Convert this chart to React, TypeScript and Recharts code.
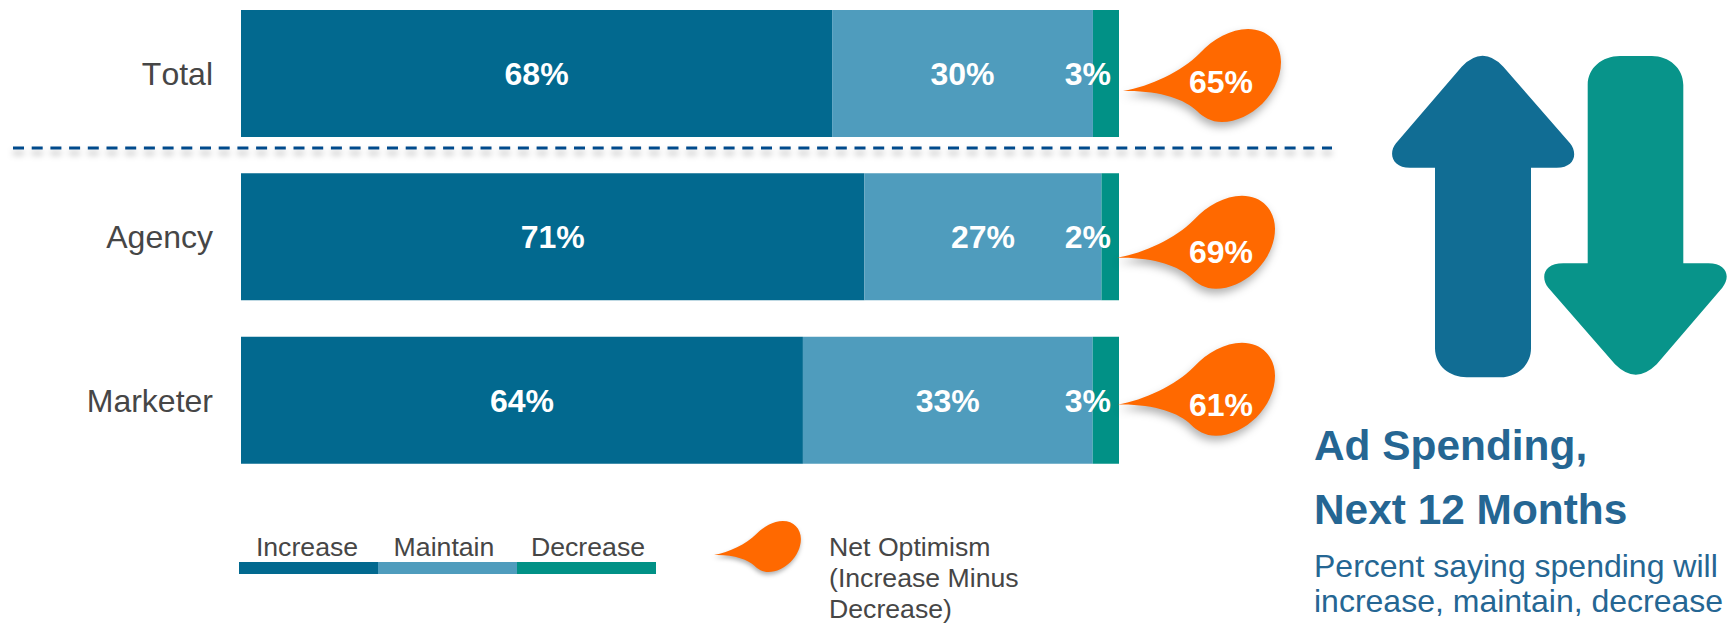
import { BarChart, Bar, XAxis, YAxis, LabelList, Legend } from "recharts";

const categories = ["Total", "Agency", "Marketer"];
const increase = [68, 71, 64];
const maintain = [30, 27, 33];
const decrease = [3, 2, 3];
const netOptimism = [65, 69, 61];

const chartData = categories.map((name, i) => ({
  name,
  increase: increase[i],
  maintain: maintain[i],
  decrease: decrease[i],
  net: netOptimism[i],
}));

const FONT = '"Liberation Sans", Arial, sans-serif';
const TEXT_COLOR = "#464646";
const TITLE_COLOR = "#256693";
const ORANGE = "#ff6900";

// teardrop outline, tip of the tail sits at 0,0
const DROP_PATH =
  "M0 0 C28 -5 58 -19 77 -38 C90 -52 108 -62 125 -62 C145 -62 158 -48 158 -29 C158 2 128 31 99 31 C88 31 80 26 74 20 C62 8 35 -1 0 0 Z";
const DROP_SHADOW = "drop-shadow(-1px 5px 4px rgba(0,0,0,0.3))";

// the bubbles were nudged by hand per row: tail offset from the bar end / bar middle, then label offset from the tail
const bubbleNudge = [
  { dx: 4, dy: 17.5, labelX: 98, labelY: 2 },
  { dx: -2, dy: 21, labelX: 104, labelY: 5 },
  { dx: -2, dy: 4.5, labelX: 104, labelY: 11 },
];

const NetBubble = (props: any) => {
  const { x, y, width, height, value, index } = props;
  const nudge = bubbleNudge[index];
  const tipX = x + width + nudge.dx;
  const tipY = y + height / 2 + nudge.dy;
  return (
    <g transform={`translate(${tipX} ${tipY})`}>
      <path d={DROP_PATH} fill={ORANGE} style={{ filter: DROP_SHADOW }} />
      <text
        x={nudge.labelX}
        y={nudge.labelY}
        textAnchor="middle"
        fill="#fff"
        fontSize={32}
        fontWeight="bold"
      >
        {value}%
      </text>
    </g>
  );
};

const legendCentres = [307, 444, 588];

const LegendContent = ({ payload }: any) => (
  <svg width={1729} height={623} style={{ display: "block", fontFamily: FONT, fontKerning: "none" }}>
    {(payload || []).map((item: any, i: number) => (
      <g key={item.value}>
        <rect x={239 + i * 139} y={562} width={139} height={12} fill={item.color} />
        <text x={legendCentres[i]} y={556} textAnchor="middle" fontSize={26.67} fill={TEXT_COLOR}>
          {item.value}
        </text>
      </g>
    ))}
    <g transform="translate(714 555)">
      <path d={DROP_PATH} fill={ORANGE} transform="scale(0.55)" style={{ filter: DROP_SHADOW }} />
    </g>
    <g fontSize={26.67} fill={TEXT_COLOR}>
      <text x={829} y={556}>Net Optimism</text>
      <text x={829} y={587}>(Increase Minus</text>
      <text x={829} y={618}>Decrease)</text>
    </g>
  </svg>
);

const percent = (v: any) => `${v}%`;

const labelStyle = { fill: "#fff", fontSize: 32, fontWeight: "bold" };

export default function App() {
  return (
    <div
      style={{
        position: "absolute",
        left: 0,
        top: 0,
        width: 1729,
        height: 623,
        fontFamily: FONT,
        fontKerning: "none",
      }}
    >
      <BarChart
        width={1729}
        height={623}
        data={chartData}
        layout="vertical"
        stackOffset="expand"
        barSize={127}
        margin={{ top: -8, right: 610, bottom: 141, left: 0 }}
        style={{ fontFamily: FONT }}
      >
        <XAxis type="number" hide />
        <YAxis
          type="category"
          dataKey="name"
          width={241}
          axisLine={false}
          tickLine={false}
          tickSize={0}
          tickMargin={28}
          tick={{ fontSize: 32, fill: TEXT_COLOR }}
        />
        <Bar dataKey="increase" name="Increase" stackId="a" fill="#02698f" isAnimationActive={false}>
          <LabelList dataKey="increase" position="center" formatter={percent} {...labelStyle} />
        </Bar>
        <Bar dataKey="maintain" name="Maintain" stackId="a" fill="#4f9cbd" isAnimationActive={false}>
          <LabelList dataKey="maintain" position="center" formatter={percent} {...labelStyle} />
        </Bar>
        <Bar dataKey="decrease" name="Decrease" stackId="a" fill="#019186" isAnimationActive={false}>
          <LabelList dataKey="decrease" position="insideRight" offset={8} formatter={percent} {...labelStyle} />
          <LabelList dataKey="net" content={NetBubble} />
        </Bar>
        <Legend
          layout="horizontal"
          verticalAlign="middle"
          itemSorter={null}
          content={LegendContent}
          wrapperStyle={{ left: 0, top: 0, width: 1729, height: 623, pointerEvents: "none" }}
        />

        {/* separator between the total row and the two groups */}
        <line
          x1={13}
          y1={148}
          x2={1332}
          y2={148}
          stroke="#004a8c"
          strokeWidth={3}
          strokeDasharray="11 7.7"
          style={{ filter: "drop-shadow(0px 5px 3px rgba(0,0,0,0.3))" }}
        />

        {/* up and down arrows on the right */}
        <path
          d="M1461.7 66.7 Q1482.7 45 1503.3 66.7 L1570 143.3 C1578 153 1575 167.7 1556.7 167.7 L1531 167.7 L1531 348.3 C1531 366 1516 377.3 1500 377.3 L1466.7 377.3 C1450 377.3 1435 366 1435 348.3 L1435 167.7 L1410 167.7 C1392 167.7 1388 153 1396 143.3 Z"
          fill="#116d94"
        />
        <path
          d="M1587.7 85 C1587.7 68 1602 56 1620 56 L1651.7 56 C1669 56 1683.3 68 1683.3 85 L1683.3 263.3 L1708.3 263.3 C1727 263.3 1731 277 1722.3 287.7 L1656.7 364.3 Q1635.7 385 1615 364.3 L1548.3 287.7 C1540 277 1544 263.3 1563.3 263.3 L1587.7 263.3 Z"
          fill="#08948a"
        />

        <g fill={TITLE_COLOR}>
          <text x={1314} y={460} fontSize={42.4} fontWeight="bold">Ad Spending,</text>
          <text x={1314} y={524} fontSize={42.4} fontWeight="bold">Next 12 Months</text>
          <text x={1314} y={577} fontSize={32}>Percent saying spending will</text>
          <text x={1314} y={612} fontSize={32}>increase, maintain, decrease</text>
        </g>
      </BarChart>
    </div>
  );
}
